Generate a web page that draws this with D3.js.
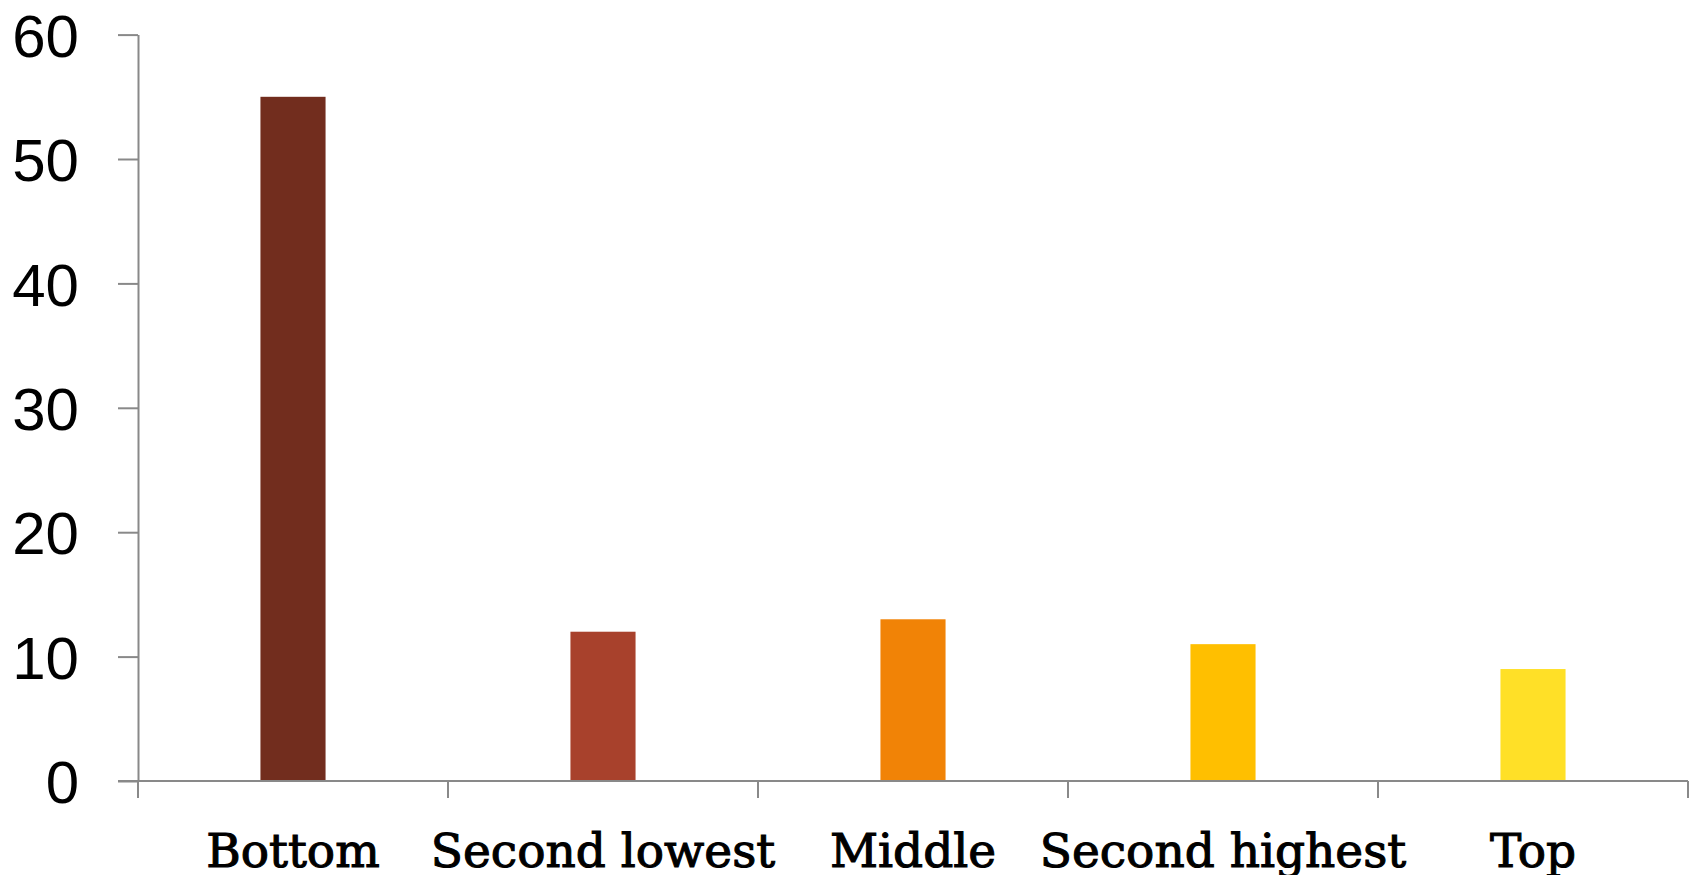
<!DOCTYPE html>
<html><head><meta charset="utf-8">
<script src="https://cdn.jsdelivr.net/npm/d3@7"></script>
<style>html,body{margin:0;padding:0;background:#fff;overflow:hidden}</style>
</head><body><svg id="c" width="1698" height="875"></svg>
<script>
const categories = ["Bottom", "Second lowest", "Middle", "Second highest", "Top"];
const values = [55, 12, 13, 11, 9];
const colors = ["#722D1E", "#A8412C", "#F18306", "#FFBF00", "#FFE027"];
const yTicks = [0, 10, 20, 30, 40, 50, 60];

(function () {
const svg = d3.select("#c");
const mLeft = 138, mRight = 1688, mTop = 34.6, mBottom = 781;
const x = d3.scaleBand().domain(categories).range([mLeft, mRight]).paddingInner(0).paddingOuter(0);
const y = d3.scaleLinear().domain([0, 60]).range([mBottom, mTop]);
const bw = x.bandwidth() * 0.21;

svg.selectAll("rect.bar").data(values).enter().append("rect")
  .attr("x", (d, i) => x(categories[i]) + x.bandwidth() / 2 - bw / 2)
  .attr("y", d => y(d))
  .attr("width", bw)
  .attr("height", d => y(0) - y(d))
  .attr("fill", (d, i) => colors[i]);

const axisColor = "#898989";
const ya = svg.append("g").attr("transform", `translate(${mLeft},0)`)
  .call(d3.axisLeft(y).tickValues(yTicks).tickSize(20).tickSizeOuter(0).tickPadding(39));
ya.select(".domain").attr("stroke", axisColor).attr("stroke-width", 2);
ya.selectAll(".tick line").attr("stroke", axisColor).attr("stroke-width", 2);
ya.selectAll(".tick text").attr("font-family", "'Liberation Sans', Arial, sans-serif")
  .attr("font-size", 60).attr("fill", "#000").attr("dy", "0.36em");

const xa = svg.append("g").attr("transform", `translate(0,${mBottom})`);
xa.append("line").attr("x1", mLeft - 20).attr("x2", mRight).attr("y1", 0).attr("y2", 0)
  .attr("stroke", axisColor).attr("stroke-width", 2);
const bounds = categories.map(c => x(c)).concat([mRight]);
xa.selectAll("line.t").data(bounds).enter().append("line")
  .attr("x1", d => d).attr("x2", d => d).attr("y1", 0).attr("y2", 17)
  .attr("stroke", axisColor).attr("stroke-width", 2);
xa.selectAll("text").data(categories).enter().append("text")
  .attr("x", d => x(d) + x.bandwidth() / 2)
  .attr("y", 86)
  .attr("text-anchor", "middle")
  .attr("font-family", "'DejaVu Serif', serif")
  .attr("font-size", 47)
  .attr("fill", "#000")
  .attr("stroke", "#000")
  .attr("stroke-width", 1.1)
  .text(d => d);
})();
</script>
</body></html>
